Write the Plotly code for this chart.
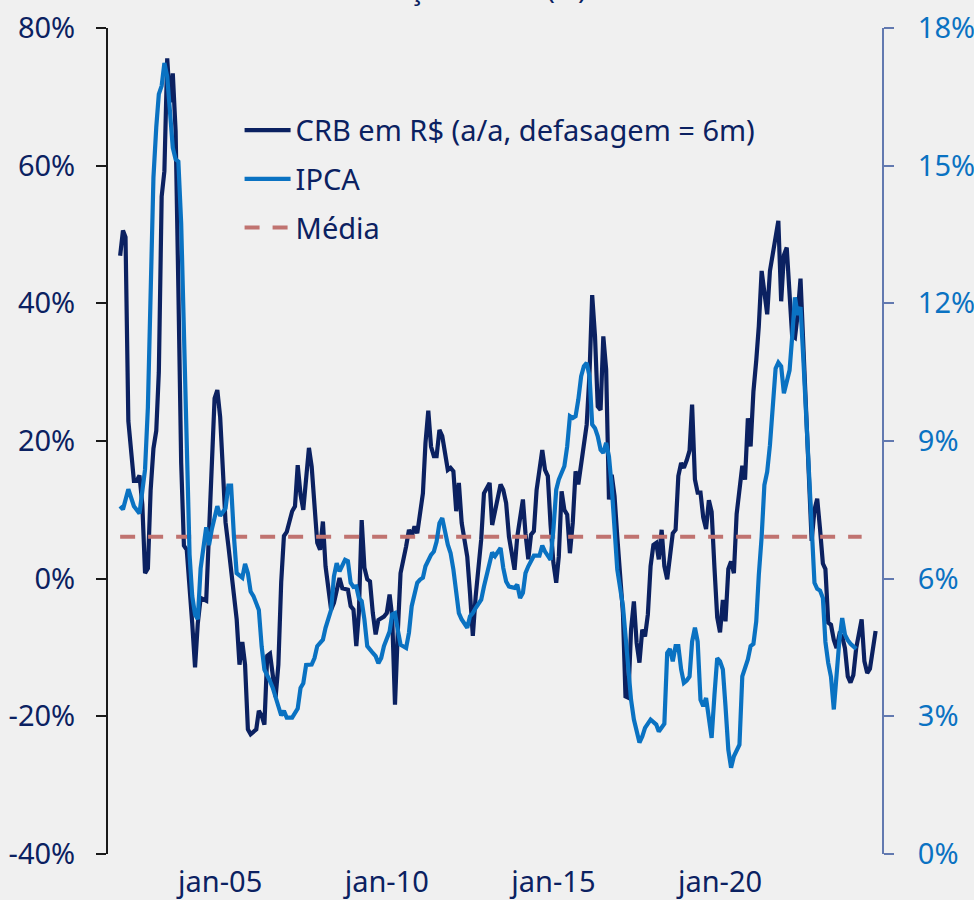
import plotly.graph_objects as go

# ---------------- data ----------------
crb_dates = [
    "2002-01", "2002-02", "2002-03", "2002-04", "2002-06", "2002-07", "2002-08", "2002-09", "2002-10", "2002-11", "2002-12",
    "2003-01", "2003-02", "2003-03", "2003-04", "2003-05", "2003-06", "2003-07", "2003-08", "2003-09", "2003-10", "2003-11", "2003-12",
    "2004-01", "2004-03", "2004-04", "2004-05", "2004-06", "2004-08", "2004-09", "2004-10", "2004-11", "2004-12",
    "2005-01", "2005-02", "2005-03", "2005-04", "2005-06", "2005-07", "2005-08", "2005-09", "2005-10", "2005-11", "2005-12",
    "2006-02", "2006-03", "2006-04", "2006-05", "2006-06", "2006-07", "2006-09", "2006-10", "2006-11", "2006-12",
    "2007-01", "2007-03", "2007-04", "2007-05", "2007-06", "2007-07", "2007-09", "2007-10", "2007-12",
    "2008-01", "2008-02", "2008-03", "2008-05", "2008-06", "2008-08", "2008-09", "2008-11", "2008-12",
    "2009-01", "2009-02", "2009-03", "2009-04", "2009-05", "2009-06", "2009-07", "2009-08", "2009-09", "2009-10", "2009-12",
    "2010-01", "2010-02", "2010-03", "2010-04", "2010-05", "2010-06", "2010-08", "2010-09", "2010-10", "2010-11", "2010-12",
    "2011-02", "2011-03", "2011-04", "2011-05", "2011-06", "2011-07", "2011-08", "2011-09", "2011-11", "2011-12",
    "2012-01", "2012-02", "2012-03", "2012-04", "2012-06", "2012-07", "2012-08", "2012-09", "2012-11", "2012-12",
    "2013-02", "2013-03", "2013-05", "2013-06", "2013-07", "2013-08", "2013-09", "2013-11", "2013-12",
    "2014-02", "2014-03", "2014-04", "2014-05", "2014-06", "2014-07", "2014-08", "2014-09", "2014-10", "2014-11", "2014-12",
    "2015-01", "2015-02", "2015-03", "2015-04", "2015-05", "2015-06", "2015-07", "2015-08", "2015-09", "2015-10", "2015-11", "2015-12",
    "2016-01", "2016-02", "2016-03", "2016-04", "2016-05", "2016-06", "2016-07", "2016-08", "2016-09", "2016-10", "2016-11", "2016-12",
    "2017-02", "2017-03", "2017-04", "2017-05", "2017-06", "2017-07", "2017-08", "2017-09", "2017-10", "2017-11", "2017-12",
    "2018-01", "2018-02", "2018-03", "2018-04", "2018-05", "2018-06", "2018-07", "2018-08", "2018-09", "2018-10", "2018-11", "2018-12",
    "2019-01", "2019-02", "2019-03", "2019-04", "2019-05", "2019-06", "2019-07", "2019-08", "2019-09", "2019-10", "2019-11", "2019-12",
    "2020-01", "2020-02", "2020-03", "2020-04", "2020-05", "2020-06", "2020-07", "2020-08", "2020-09", "2020-10", "2020-11", "2020-12",
    "2021-01", "2021-02", "2021-03", "2021-04", "2021-05", "2021-06", "2021-07", "2021-08", "2021-09", "2021-10", "2021-11", "2021-12",
    "2022-01", "2022-02", "2022-03", "2022-04", "2022-05", "2022-06", "2022-07", "2022-08", "2022-09", "2022-10", "2022-11", "2022-12",
    "2023-01", "2023-02", "2023-03", "2023-04", "2023-05", "2023-06", "2023-07", "2023-08", "2023-09", "2023-10", "2023-11", "2023-12",
    "2024-01", "2024-02", "2024-03", "2024-04", "2024-05", "2024-06", "2024-07", "2024-08", "2024-09",
]
crb_values = [
    46.9, 50.6, 49.6, 22.9, 14.2, 14.2, 15.0, 10.8, 0.8, 1.5, 12.8,
    18.9, 21.5, 30.0, 55.5, 59.2, 75.6, 69.2, 73.4, 65.0, 42.2, 16.8, 4.8,
    4.2, -6.5, -12.9, -6.5, -2.8, -3.2, 6.2, 16.2, 26.2, 27.4,
    23.5, 15.5, 8.2, 4.8, -3.2, -5.9, -12.5, -9.2, -12.5, -21.9, -22.6,
    -21.9, -19.2, -19.9, -21.2, -11.2, -10.9, -17.2, -12.5, -0.5, 6.2,
    6.8, 9.8, 10.5, 16.5, 12.2, 10.0, 19.0, 16.3, 5.2,
    4.2, 8.3, 1.8, -4.5, -3.5, 0.1, -1.4, -1.6, -4.0,
    -4.5, -9.8, -5.0, 8.5, 1.6, -0.1, -0.4, -5.0, -8.1, -6.0, -5.5,
    -5.0, -2.3, -5.5, -18.3, -7.9, 0.8, 4.7, 7.1, 6.1, 7.6, 6.6,
    12.4, 19.7, 24.4, 19.2, 17.8, 17.8, 21.6, 20.7, 15.8, 16.1,
    15.6, 9.8, 13.9, 8.1, 3.2, -2.1, -8.3, -2.6, 5.7, 12.4,
    13.9, 7.8, 11.5, 13.7, 12.9, 11.0, 6.1, 1.3, 6.1,
    11.5, 6.6, 2.8, 6.4, 6.9, 12.9, 16.3, 18.7, 15.8, 14.9, 7.8,
    2.3, -0.6, 3.2, 12.7, 10.0, 9.3, 3.7, 8.1, 15.6, 13.7, 16.8, 19.2,
    22.4, 29.9, 41.2, 35.2, 25.0, 24.5, 35.2, 30.4, 11.5, 15.1, 12.0, 6.1,
    -5.0, -17.1, -17.3, -7.4, -3.3, -9.3, -12.2, -7.4, -8.4, -5.2, 1.8,
    4.9, 5.2, 2.8, 7.1, 1.8, -0.1, 3.2, 6.6, 7.1, 14.9, 16.8, 16.1,
    17.2, 18.6, 25.3, 14.4, 12.5, 12.5, 8.9, 7.2, 11.4, 9.7, 1.6, -5.6,
    -7.8, -3.1, -6.2, 1.4, 2.5, 0.8, 9.4, 13.3, 16.4, 14.4, 23.3, 19.2,
    27.2, 31.7, 36.7, 44.7, 41.1, 38.4, 44.7, 47.0, 49.5, 52.0, 40.3, 47.0,
    48.1, 42.3, 35.3, 35.0, 38.4, 43.6, 34.5, 23.9, 12.8, 5.5, 10.0, 11.6,
    7.2, 2.2, 1.4, -6.4, -6.7, -8.9, -10.1, -8.1, -8.4, -10.1, -14.2, -15.1,
    -14.0, -10.1, -8.1, -5.9, -12.0, -13.7, -13.1, -10.3, -7.6,
]

ipca_dates = [
    "2002-01", "2002-02", "2002-04", "2002-05", "2002-06", "2002-08", "2002-10", "2002-11", "2002-12",
    "2003-01", "2003-02", "2003-03", "2003-04", "2003-05", "2003-06", "2003-07", "2003-08", "2003-09", "2003-10", "2003-11", "2003-12",
    "2004-01", "2004-02", "2004-03", "2004-04", "2004-05", "2004-06", "2004-08", "2004-09", "2004-10", "2004-12",
    "2005-01", "2005-03", "2005-04", "2005-05", "2005-06", "2005-07", "2005-09", "2005-10", "2005-11", "2005-12",
    "2006-01", "2006-03", "2006-04", "2006-05", "2006-07", "2006-08", "2006-10", "2006-11", "2006-12",
    "2007-01", "2007-02", "2007-03", "2007-05", "2007-06", "2007-07", "2007-08", "2007-10", "2007-11", "2007-12",
    "2008-02", "2008-03", "2008-05", "2008-06", "2008-07", "2008-08", "2008-10", "2008-11", "2008-12",
    "2009-01", "2009-02", "2009-03", "2009-04", "2009-05", "2009-06", "2009-08", "2009-09", "2009-10", "2009-11", "2009-12",
    "2010-02", "2010-03", "2010-04", "2010-05", "2010-06", "2010-08", "2010-09", "2010-10", "2010-12",
    "2011-01", "2011-02", "2011-03", "2011-05", "2011-06", "2011-07", "2011-08", "2011-09", "2011-11", "2011-12",
    "2012-01", "2012-02", "2012-03", "2012-04", "2012-06", "2012-07", "2012-08", "2012-09", "2012-11", "2012-12",
    "2013-01", "2013-02", "2013-03", "2013-04", "2013-06", "2013-07", "2013-08", "2013-09", "2013-11", "2013-12",
    "2014-01", "2014-02", "2014-03", "2014-04", "2014-05", "2014-06", "2014-08", "2014-09", "2014-10", "2014-11", "2014-12",
    "2015-01", "2015-02", "2015-03", "2015-05", "2015-06", "2015-07", "2015-08", "2015-09", "2015-10", "2015-11", "2015-12",
    "2016-01", "2016-02", "2016-03", "2016-04", "2016-05", "2016-06", "2016-07", "2016-08", "2016-09", "2016-10", "2016-11", "2016-12",
    "2017-02", "2017-03", "2017-04", "2017-05", "2017-06", "2017-08", "2017-09", "2017-10", "2017-12",
    "2018-02", "2018-03", "2018-04", "2018-05", "2018-06", "2018-07", "2018-08", "2018-09", "2018-10", "2018-11", "2018-12",
    "2019-01", "2019-02", "2019-03", "2019-04", "2019-05", "2019-06", "2019-07", "2019-08", "2019-09", "2019-10", "2019-11", "2019-12",
    "2020-01", "2020-02", "2020-03", "2020-04", "2020-05", "2020-06", "2020-08", "2020-09", "2020-11", "2020-12",
    "2021-01", "2021-02", "2021-03", "2021-04", "2021-05", "2021-06", "2021-07", "2021-08", "2021-09", "2021-10", "2021-11", "2021-12",
    "2022-01", "2022-02", "2022-03", "2022-04", "2022-05", "2022-06", "2022-07", "2022-08", "2022-09", "2022-10", "2022-11", "2022-12",
    "2023-01", "2023-02", "2023-03", "2023-04", "2023-05", "2023-06", "2023-07", "2023-08", "2023-09", "2023-10", "2023-11", "2023-12",
    "2024-02",
]
ipca_values = [
    7.58, 7.51, 7.95, 7.73, 7.58, 7.42, 8.38, 9.73, 12.13,
    14.74, 15.84, 16.56, 16.74, 17.24, 16.94, 16.04, 15.39, 15.14, 15.09, 13.74, 11.23,
    8.23, 6.52, 5.62, 5.22, 5.12, 6.22, 7.12, 6.73, 7.07, 7.58,
    7.37, 7.53, 8.03, 8.03, 6.92, 6.12, 6.02, 6.32, 6.12, 5.72,
    5.62, 5.32, 4.52, 4.02, 3.77, 3.62, 3.22, 3.02, 3.12,
    2.97, 2.97, 2.97, 3.17, 3.62, 3.72, 4.12, 4.13, 4.27, 4.53,
    4.67, 4.93, 5.32, 6.05, 6.34, 6.16, 6.41, 6.38, 5.91,
    5.82, 5.83, 5.58, 5.51, 5.11, 4.53, 4.38, 4.31, 4.16, 4.27, 4.53,
    4.85, 5.22, 5.25, 4.89, 4.56, 4.49, 4.82, 5.40, 5.91,
    5.98, 6.02, 6.27, 6.52, 6.59, 6.81, 7.21, 7.32, 6.74, 6.56,
    6.20, 5.76, 5.25, 5.11, 4.93, 5.18, 5.25, 5.36, 5.54, 5.83,
    6.12, 6.31, 6.57, 6.49, 6.67, 6.23, 5.94, 5.83, 5.80, 5.87,
    5.58, 5.69, 6.12, 6.27, 6.38, 6.50, 6.50, 6.72, 6.59, 6.50, 6.41,
    7.07, 7.94, 8.16, 8.45, 8.88, 9.54, 9.50, 9.54, 9.90, 10.41, 10.63,
    10.70, 10.41, 9.36, 9.28, 9.10, 8.81, 8.74, 8.96, 8.66, 8.01, 7.14, 6.20,
    5.40, 4.67, 4.02, 3.36, 2.93, 2.43, 2.56, 2.75, 2.93,
    2.82, 2.67, 2.77, 2.84, 4.38, 4.47, 4.20, 4.53, 4.53, 4.02, 3.73,
    3.78, 3.87, 4.63, 4.93, 4.63, 3.36, 3.22, 3.40, 3.00, 2.53, 3.47, 4.27,
    4.20, 4.02, 3.22, 2.27, 1.88, 2.13, 2.38, 3.87, 4.24, 4.53,
    4.58, 5.07, 6.08, 6.91, 8.04, 8.33, 8.91, 9.67, 10.58, 10.71, 10.63, 10.04,
    10.33, 10.54, 11.25, 12.13, 11.75, 11.92, 10.83, 9.58, 8.25, 6.83, 5.91, 5.78,
    5.74, 5.58, 4.62, 4.16, 3.86, 3.15, 3.91, 4.66, 5.14, 4.78, 4.66, 4.58,
    4.47,
]

media_dates = ["2002-01", "2024-04"]
media_value = 6.1

series_names = ["CRB em R$ (a/a, defasagem = 6m)", "IPCA", "Média"]
title_text = "Inflação e CRB (%)"

x_tick_dates = ["2005-01-01", "2010-01-01", "2015-01-01", "2020-01-01"]
x_tick_labels = ["jan-05", "jan-10", "jan-15", "jan-20"]
left_ticks = [-40, -20, 0, 20, 40, 60, 80]
left_labels = ["-40%", "-20%", "0%", "20%", "40%", "60%", "80%"]
right_ticks = [0, 3, 6, 9, 12, 15, 18]
right_labels = ["0%", "3%", "6%", "9%", "12%", "15%", "18%"]

# ---------------- styles ----------------
FONT = "Noto Sans"
NAVY = "#0b2161"
BLUE = "#0a72c2"
MEAN_C = "#c07370"
BG = "#f0f0f0"
FS = 29

fig = go.Figure()
fig.add_trace(go.Scatter(
    x=crb_dates, y=crb_values, name=series_names[0], mode="lines",
    line=dict(color=NAVY, width=4.2), yaxis="y", legendgroup="a"))
fig.add_trace(go.Scatter(
    x=ipca_dates, y=ipca_values, name=series_names[1], mode="lines",
    line=dict(color=BLUE, width=4.2), yaxis="y2", legendgroup="b"))
fig.add_trace(go.Scatter(
    x=media_dates, y=[media_value, media_value], name=series_names[2], mode="lines",
    line=dict(color=MEAN_C, width=4, dash="15px,13px"), yaxis="y", legendgroup="c"))

fig.update_layout(
    width=974, height=900,
    margin=dict(l=108, r=92, t=28, b=46, autoexpand=False),
    paper_bgcolor=BG, plot_bgcolor=BG,
    font=dict(family=FONT, size=FS, color=NAVY),
    showlegend=True,
    legend=dict(x=0.170, y=0.907, xanchor="left", yanchor="top",
                bgcolor="rgba(0,0,0,0)", font=dict(size=FS, color=NAVY),
                itemwidth=46, tracegroupgap=8, traceorder="grouped"),
    xaxis=dict(
        type="date", range=["2001-08-21", "2024-11-10"],
        tickvals=x_tick_dates, ticktext=x_tick_labels, automargin=False,
        showline=False, showgrid=False, zeroline=False, ticks="",
        tickfont=dict(size=FS, color=NAVY), ticklabelstandoff=8),
    yaxis=dict(
        range=[-40, 80], tickvals=left_ticks, ticktext=left_labels, automargin=False,
        showline=True, linecolor="#1a1a1a", linewidth=2,
        ticks="outside", ticklen=10, tickwidth=2, tickcolor="#1a1a1a",
        showgrid=False, zeroline=False,
        tickfont=dict(size=FS, color=NAVY), ticklabelstandoff=15),
    yaxis2=dict(
        range=[0, 18], tickvals=right_ticks, ticktext=right_labels, automargin=False,
        overlaying="y", side="right",
        showline=True, linecolor="#6279b0", linewidth=2,
        ticks="outside", ticklen=10, tickwidth=2, tickcolor="#6279b0",
        showgrid=False, zeroline=False,
        tickfont=dict(size=FS, color=BLUE), ticklabelstandoff=18),
    annotations=[dict(
        text=title_text, xref="paper", yref="paper", x=0.31, y=1.048,
        xanchor="left", yanchor="middle", showarrow=False,
        font=dict(size=28, color=NAVY, family=FONT))],
)

fig.write_html(
    "out.html",
    config={"displayModeBar": False},
    post_script="document.body.style.margin='0';document.body.style.background='#f0f0f0';",
)
